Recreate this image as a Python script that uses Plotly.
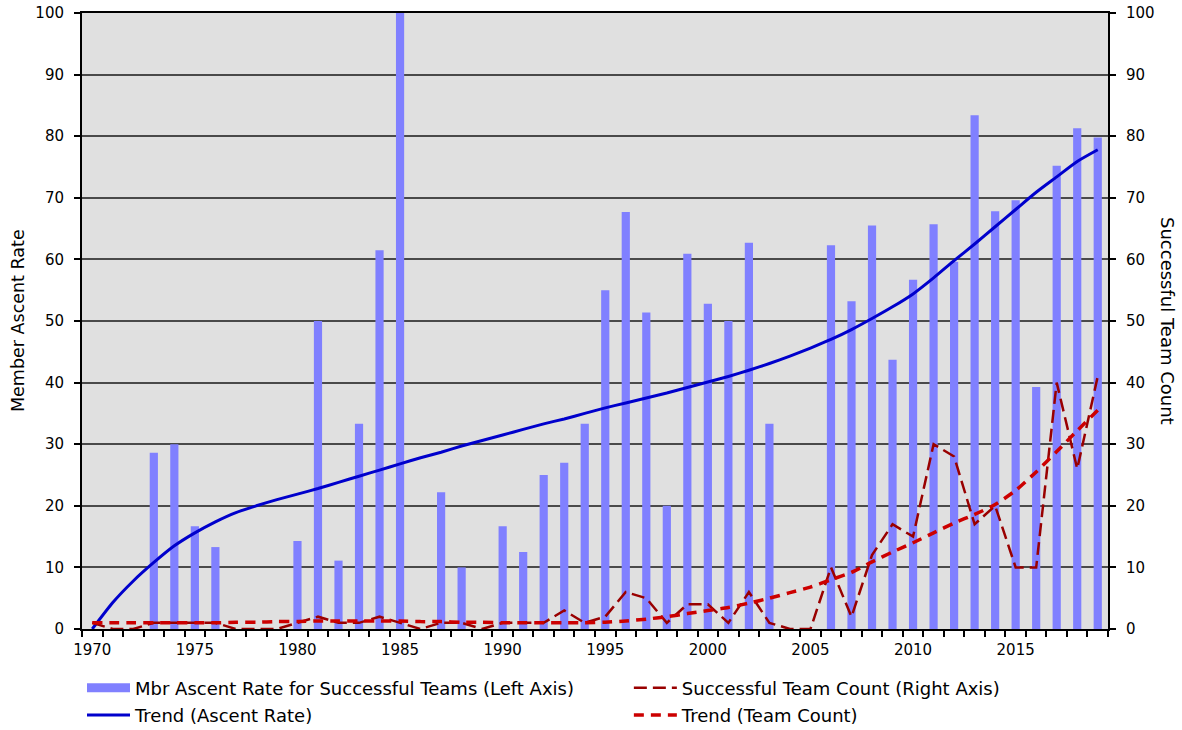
import plotly.graph_objects as go

years = list(range(1970, 2020))

ascent_rate = [None, None, None, 28.6, 30.0, 16.7, 13.3, None, None, None,
               14.3, 50.0, 11.1, 33.3, 61.5, 100.0, None, 22.2, 10.0, None,
               16.7, 12.5, 25.0, 27.0, 33.3, 55.0, 67.7, 51.4, 20.0, 60.9,
               52.8, 50.0, 62.7, 33.3, None, None, 62.3, 53.2, 65.5, 43.7,
               56.7, 65.7, 59.6, 83.4, 67.8, 69.6, 39.3, 75.2, 81.3, 79.8]

team_count = [1, 0, 0, 1, 1, 1, 1, 0, 0, 0,
              1, 2, 1, 1, 2, 1, 0, 1, 1, 0,
              1, 1, 1, 3, 1, 2, 6, 5, 1, 4,
              4, 1, 6, 1, 0, 0, 10, 2, 12, 17,
              15, 30, 28, 17, 20, 10, 10, 40, 26, 41]

trend_rate = [0.0, 4.3, 7.8, 10.8, 13.5, 15.6, 17.4, 18.9, 20.0, 21.0,
              21.9, 22.8, 23.8, 24.8, 25.8, 26.8, 27.8, 28.7, 29.7, 30.6,
              31.5, 32.4, 33.3, 34.1, 35.0, 35.9, 36.7, 37.5, 38.3, 39.2,
              40.1, 41.0, 42.0, 43.1, 44.3, 45.6, 47.0, 48.6, 50.4, 52.3,
              54.4, 57.0, 59.8, 62.5, 65.3, 68.1, 70.9, 73.4, 75.9, 77.8]

trend_count = [1.0, 1.0, 1.0, 1.0, 1.0, 1.0, 1.0, 1.1, 1.1, 1.2,
               1.2, 1.3, 1.3, 1.3, 1.3, 1.3, 1.2, 1.2, 1.1, 1.1,
               1.0, 1.0, 1.0, 1.0, 1.0, 1.1, 1.3, 1.6, 2.0, 2.5,
               3.0, 3.5, 4.2, 5.0, 5.9, 6.8, 8.0, 9.2, 10.9, 12.5,
               14.0, 15.6, 17.2, 18.6, 20.2, 22.5, 25.5, 28.8, 32.2, 35.5]

x_tick_years = [1970, 1975, 1980, 1985, 1990, 1995, 2000, 2005, 2010, 2015]
y_ticks = list(range(0, 101, 10))

name_bar = "Mbr Ascent Rate for Successful Teams (Left Axis)"
name_count = "Successful Team Count (Right Axis)"
name_trend_rate = "Trend (Ascent Rate)"
name_trend_count = "Trend (Team Count)"

BAR_COLOR = "#8080FF"
FONT = "DejaVu Sans"

fig = go.Figure()

fig.add_trace(go.Bar(x=years, y=ascent_rate, width=0.4, marker=dict(color=BAR_COLOR, line=dict(width=0)),
                     name=name_bar, showlegend=False, yaxis="y"))

# legend-only sample for the bar series (wide rectangle like the reference)
fig.add_trace(go.Scatter(x=[None], y=[None], mode="lines", line=dict(color=BAR_COLOR, width=9),
                         name=name_bar, legend="legend", yaxis="y"))

fig.add_trace(go.Scatter(x=years, y=team_count, mode="lines", name=name_count,
                         line=dict(color="#990000", width=2.5, dash="13px,6px"),
                         yaxis="y2", legend="legend2"))

fig.add_trace(go.Scatter(x=years, y=trend_rate, mode="lines", name=name_trend_rate,
                         line=dict(color="#0000CC", width=3, shape="spline", smoothing=0.6),
                         yaxis="y", legend="legend3"))

fig.add_trace(go.Scatter(x=years, y=trend_count, mode="lines", name=name_trend_count,
                         line=dict(color="#CC0000", width=3.5, dash="10px,7px", shape="spline", smoothing=0.6),
                         yaxis="y2", legend="legend4"))

legend_common = dict(orientation="h", xanchor="left", yanchor="middle", itemwidth=43,
                     bgcolor="rgba(0,0,0,0)", font=dict(family=FONT, size=18, color="black"))

ROW1 = -0.096
ROW2 = -0.140
COL1 = 0.0
COL2 = 0.533

axis_common = dict(automargin=False, zeroline=False)

fig.update_layout(
    width=1182, height=730,
    margin=dict(l=82, r=74, t=13, b=101, autoexpand=False),
    plot_bgcolor="#E0E0E0", paper_bgcolor="white",
    font=dict(family=FONT, size=15, color="black"),
    barmode="overlay",
    showlegend=True,
    legend=dict(x=COL1, y=ROW1, **legend_common),
    legend2=dict(x=COL2, y=ROW1, **legend_common),
    legend3=dict(x=COL1, y=ROW2, **legend_common),
    legend4=dict(x=COL2, y=ROW2, **legend_common),
    xaxis=dict(range=[1969.5, 2019.5], tickvals=x_tick_years, ticktext=[str(v) for v in x_tick_years],
               ticks="", showgrid=False, showline=True, linecolor="black", linewidth=2,
               mirror=True, ticklabelstandoff=6,
               minor=dict(ticks="outside", tick0=1969.5, dtick=1, ticklen=6, tickcolor="black", tickwidth=1.5,
                          showgrid=False), **axis_common),
    yaxis=dict(range=[0, 100], tickvals=y_ticks, ticks="outside", ticklen=6, tickwidth=1.5, tickcolor="black",
               showgrid=True, gridcolor="#4a4a4a", gridwidth=1.5,
               showline=True, linecolor="black", linewidth=2, ticklabelstandoff=7, **axis_common),
    yaxis2=dict(range=[0, 100], tickvals=y_ticks, ticks="outside", ticklen=6, tickwidth=1.5, tickcolor="black",
                overlaying="y", side="right", showgrid=False,
                showline=True, linecolor="black", linewidth=2, ticklabelstandoff=7, **axis_common),
    annotations=[
        dict(text="Member Ascent Rate", xref="paper", yref="paper", x=0, y=0.5, xshift=-64,
             textangle=-90, showarrow=False, xanchor="center", yanchor="middle",
             font=dict(family=FONT, size=17.5, color="black")),
        dict(text="Successful Team Count", xref="paper", yref="paper", x=1, y=0.5, xshift=60,
             textangle=90, showarrow=False, xanchor="center", yanchor="middle",
             font=dict(family=FONT, size=18, color="black")),
    ],
)

fig.write_html("out.html", config={"displayModeBar": False},
               post_script="document.body.style.margin='0';document.body.style.padding='0';")
